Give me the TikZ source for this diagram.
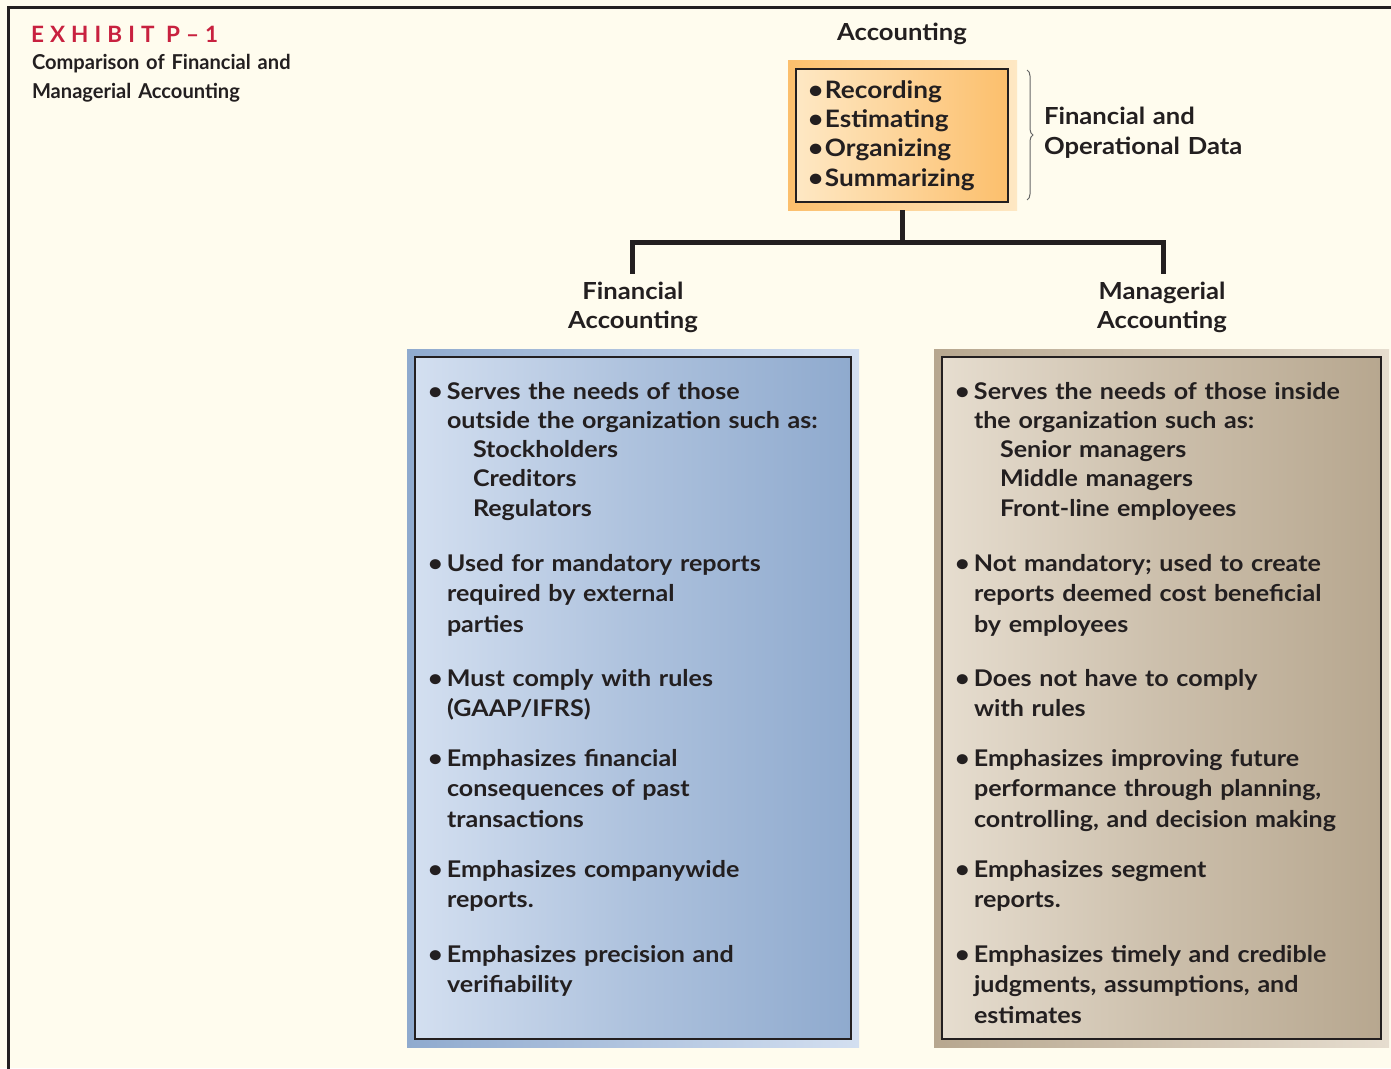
\documentclass[tikz,border=0pt]{standalone}
\usepackage{fontspec}
\setmainfont{Lato}
\newfontfamily\wide[FakeStretch=1.09]{Lato}
\newfontfamily\narrow[FakeStretch=0.98]{Lato}
\usetikzlibrary{decorations.pathreplacing}
\definecolor{bg}{HTML}{FFFCEE}
\definecolor{ink}{HTML}{231F20}
\definecolor{crim}{HTML}{C8213F}
\definecolor{oraD}{HTML}{FCBF6C}
\definecolor{oraL}{HTML}{FEE8C4}
\definecolor{bluD}{HTML}{8FAACE}
\definecolor{bluL}{HTML}{D3DFF0}
\definecolor{tanD}{HTML}{B7A78F}
\definecolor{tanL}{HTML}{E6DDCF}
\newcommand{\bul}{\makebox[19pt][l]{•}}
\newcommand{\ind}{\hspace*{19pt}}
\newcommand{\sub}{\hspace*{45pt}}
\newcommand{\obul}{\makebox[17pt][l]{•}}
\begin{document}
\begin{tikzpicture}[x=1pt,y=-1pt,
  every node/.style={inner sep=0pt, outer sep=0pt, text=ink},
  itemtext/.style={anchor=base west, align=left, text width=440pt,
    font=\wide\bfseries\fontsize{23}{30.5}\selectfont},
  firstitem/.style={itemtext, font=\wide\bfseries\fontsize{23}{29.3}\selectfont},
  head/.style={anchor=base, align=center, text width=240pt,
    font=\wide\bfseries\fontsize{23.5}{29}\selectfont},
  innerbox/.style={draw=ink, line width=1.3pt},
  conn/.style={draw=ink, line width=5pt}]
\fill[bg] (0,0) rectangle (1391,1068);
\useasboundingbox (0,0) rectangle (1391,1068);
\draw[ink, line width=3pt] (8,1070) -- (8,7) -- (1395,7);

% title
\node[anchor=base west, text=crim, font=\bfseries\fontsize{22.5}{24}\selectfont\addfontfeature{LetterSpace=27}] (ttl) at (31,42) {EXHIBIT P–1};
\node[anchor=base west, align=left, text width=320pt, font=\narrow\bfseries\fontsize{20.5}{29}\selectfont] (sub) at (32,69) {Comparison of Financial and\\Managerial Accounting};

% accounting box
\node[head] (acchead) at (902,40) {Accounting};
\node[minimum width=229pt, minimum height=150pt, left color=oraD, right color=oraL] (accout) at (902.5,135) {};
\node[innerbox, minimum width=212pt, minimum height=133pt, left color=oraL, right color=oraD] (acc) at (902,135.5) {};
\node[anchor=base west, align=left, text width=210pt, font=\wide\bfseries\fontsize{24}{29.4}\selectfont] (acclist) at (808,98)
  {\obul Recording\\\obul Estimating\\\obul Organizing\\\obul Summarizing};
\draw[gray!80!black, line width=1pt, decorate, decoration={brace, amplitude=6pt}] (1027,70) -- (1027,200);
\node[anchor=base west, align=left, text width=300pt, font=\wide\bfseries\fontsize{23.5}{30}\selectfont] (data) at (1044,124) {Financial and\\Operational Data};

% connectors
\coordinate (finjoin) at (632,274);
\coordinate (manjoin) at (1163,274);
\draw[conn] (accout.south) -- ++(0,32) -| (finjoin);
\draw[conn] (accout.south) ++(0,32) -| (manjoin);

% headings
\node[head] (finhead) at (633,299) {Financial\\Accounting};
\node[head] (manhead) at (1162,299) {Managerial\\Accounting};

% financial box
\node[minimum width=452pt, minimum height=698pt, left color=bluD, right color=bluL] (finout) at (633,698) {};
\node[innerbox, minimum width=436pt, minimum height=682pt, left color=bluL, right color=bluD, middle color=bluD!55!bluL] (fin) at (633,698) {};
\node[firstitem] (f1) at (428,399) {\bul Serves the needs of those\\\ind outside the organization such as:\\\sub Stockholders\\\sub Creditors\\\sub Regulators};
\node[itemtext] (f2) at (428,571) {\bul Used for mandatory reports\\\ind required by external\\\ind parties};
\node[itemtext] (f3) at (428,686) {\bul Must comply with rules\\\ind (GAAP/IFRS)};
\node[itemtext] (f4) at (428,766) {\bul Emphasizes financial\\\ind consequences of past\\\ind transactions};
\node[itemtext] (f5) at (428,877) {\bul Emphasizes companywide\\\ind reports.};
\node[itemtext] (f6) at (428,962) {\bul Emphasizes precision and\\\ind verifiability};

% managerial box
\node[minimum width=455pt, minimum height=698pt, left color=tanD, right color=tanL] (manout) at (1161.5,698) {};
\node[innerbox, minimum width=439pt, minimum height=682pt, left color=tanL, right color=tanD, middle color=tanD!55!tanL] (man) at (1161.5,698) {};
\node[firstitem] (m1) at (955,399) {\bul Serves the needs of those inside\\\ind the organization such as:\\\sub Senior managers\\\sub Middle managers\\\sub Front-line employees};
\node[itemtext] (m2) at (955,571) {\bul Not mandatory; used to create\\\ind reports deemed cost beneficial\\\ind by employees};
\node[itemtext] (m3) at (955,686) {\bul Does not have to comply\\\ind with rules};
\node[itemtext] (m4) at (955,766) {\bul Emphasizes improving future\\\ind performance through planning,\\\ind controlling, and decision making};
\node[itemtext] (m5) at (955,877) {\bul Emphasizes segment\\\ind reports.};
\node[itemtext] (m6) at (955,962) {\bul Emphasizes timely and credible\\\ind judgments, assumptions, and\\\ind estimates};
\end{tikzpicture}
\end{document}
